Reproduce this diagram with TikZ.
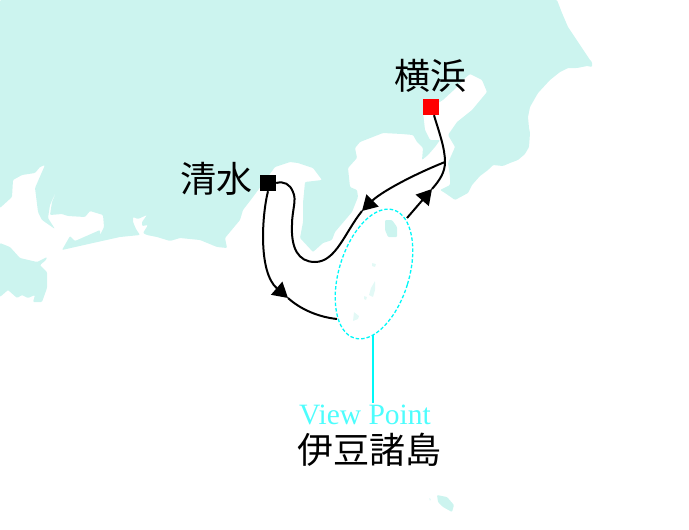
\documentclass[tikz,border=0pt]{standalone}
\usepackage{fontspec}
\setmainfont{Liberation Serif}
\newfontfamily\jpfont{Noto Sans CJK JP}
\usetikzlibrary{arrows.meta,shapes.geometric}
\definecolor{landblue}{HTML}{CCF4EF}
\definecolor{viewcyan}{HTML}{4DFDFD}
\definecolor{ringcyan}{HTML}{00F8F8}
\tikzset{
  land/.style={fill=landblue, draw=none, rounded corners=1pt},
  islet/.style={fill=landblue!55, draw=none, rounded corners=0.5pt},
  port/.style={draw=none, minimum size=16pt, inner sep=0pt},
  place/.style={font=\jpfont\fontsize{36}{36}\selectfont, inner sep=0pt},
  route/.style={draw=black, line width=2pt},
  tipped/.style={route, -{Triangle[length=15pt,width=17pt]}},
}

\begin{document}
\begin{tikzpicture}[x=1pt,y=-1pt]
  \useasboundingbox (0,0) rectangle (689,530);
  \path[land] (0,0) -- (557,0) -- (562,13) -- (568,27) -- (580,45) -- (590,60) -- (592,62) -- (592,67) -- (587,66)
    -- (577,68) -- (568,68) -- (560,72) -- (550,80) -- (538,93) -- (530,107) -- (528,117) -- (529,128) -- (530,133)
    -- (529,147) -- (525,154) -- (518,160) -- (510,163) -- (503,166) -- (493,165) -- (488,170) -- (480,176) -- (472,185)
    -- (468,193) -- (455,200) -- (445,193) -- (440,190) -- (450,185) -- (450,177) -- (448,163) -- (455,147) -- (448,135)
    -- (457,122) -- (472,110) -- (487,92) -- (482,80) -- (470,74) -- (465,78) -- (456,88) -- (443,100) -- (423,112)
    -- (425,130) -- (430,140) -- (440,140) -- (435,147) -- (428,155) -- (422,160) -- (423,148) -- (417,142) -- (413,135)
    -- (402,134) -- (383,133) -- (360,142) -- (355,148) -- (357,158) -- (348,168) -- (350,187) -- (357,190) -- (358,197)
    -- (352,212) -- (335,232) -- (332,240) -- (323,243) -- (313,252) -- (300,238) -- (303,222) -- (303,203) -- (305,182)
    -- (322,180) -- (313,168) -- (298,163) -- (290,162) -- (275,167) -- (253,197) -- (243,210) -- (240,220) -- (225,238)
    -- (227,248) -- (217,247) -- (200,240) -- (180,238) -- (170,241) -- (157,237) -- (147,235) -- (143,233) -- (148,225)
    -- (142,226) -- (142,222) -- (147,215) -- (138,219) -- (133,217) -- (133,222) -- (136,229) -- (140,235) -- (120,237)
    -- (93,243) -- (62,250) -- (70,236) -- (75,241) -- (100,230) -- (100,235) -- (104,227) -- (103,215) -- (90,211)
    -- (85,217) -- (68,216) -- (62,214) -- (50,215) -- (52,202) -- (58,188) -- (53,198) -- (50,205) -- (48,218)
    -- (55,229) -- (42,220) -- (38,212) -- (35,188) -- (45,165) -- (40,167) -- (35,173) -- (22,175) -- (13,180)
    -- (12,197) -- (0,208) -- cycle;
  \path[land] (0,243) -- (10,247) -- (20,258) -- (37,262) -- (47,257) -- (46,260) -- (40,265) -- (47,272) -- (47,288)
    -- (42,302) -- (33,302) -- (35,295) -- (28,298) -- (22,295) -- (17,298) -- (8,290) -- (0,297) -- cycle;
  \path[land] (385,220) -- (392,220) -- (397,227) -- (397,237) -- (388,237) -- (385,230) -- cycle;
  \path[islet] (372,263) -- (376,264) -- (375,267) -- (372,266) -- cycle;
  \path[islet] (375,281) -- (375,290) -- (373,297) -- (369,295) -- (371,288) -- cycle;
  \path[islet] (364,296) -- (367,297) -- (366,300) -- (364,299) -- cycle;
  \path[islet] (354,312) -- (359,316) -- (358,319) -- (353,321) -- cycle;
  \path[land] (437,495) -- (447,497) -- (454,505) -- (452,512) -- (443,507) -- (438,502) -- cycle;
  \path[islet] (429,498) -- (431,499) -- (430,501) -- cycle;

  \node[ellipse, draw=ringcyan, dash pattern=on 3.5pt off 2pt, line width=1.3pt, minimum width=70pt, minimum height=134pt, inner sep=0pt, rotate=-17] (ring) at (374,274) {};

  \node[port, fill=red] (yokohama) at (431,107) {};
  \node[port, fill=black] (shimizu) at (268,183) {};
  \node[place] (yokohamaname) at (430,76) {横浜};
  \node[place, anchor=east] (shimizuname) at (253,179) {清水};
  \node[place] (izuname) at (369,450) {伊豆諸島};
  \node[font=\fontsize{29.5}{29.5}\selectfont, text=viewcyan, inner sep=2pt] (viewname) at (365,415) {View Point};

  \coordinate (fork) at (445,162);
  \coordinate (tipa) at (362,211);
  \coordinate (tipb) at (288,298);
  \coordinate (tipc) at (432,189);
  \coordinate (ringw) at (337,319);
  \coordinate (ringe) at (407,218);
  \coordinate (rings) at (373,335);

  \draw[draw=ringcyan, line width=1.6pt] (rings) -- (viewname.north -| rings);
  \path[route] (yokohama.-70) .. controls (439,132) and (445,148) .. (fork);
  \path[tipped] (fork) .. controls (410,176) and (380,193) .. (tipa);
  \path[route] (tipa) .. controls (345,232) and (336,262) .. (315,262)
    .. controls (298,262) and (291,248) .. (292,225)
    .. controls (292,210) and (297,200) .. (293,192)
    .. controls (290,184) and (284,181) .. (shimizu.east);
  \path[tipped] (shimizu.south) .. controls (262,215) and (258,272) .. (tipb);
  \path[route] (tipb) .. controls (300,309) and (318,317) .. (ringw);
  \path[tipped] (ringe) -- (tipc);
  \path[route] (tipc) .. controls (440,180) and (445,172) .. (fork);
\end{tikzpicture}
\end{document}
